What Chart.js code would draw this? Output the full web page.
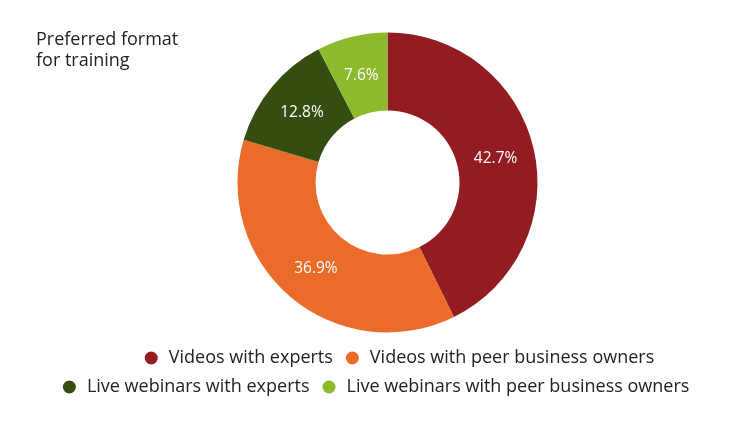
<!DOCTYPE html>
<html>
<head>
<meta charset="utf-8">
<script src="https://cdn.jsdelivr.net/npm/chart.js@4/dist/chart.umd.min.js"></script>
<style>
  html, body { margin: 0; padding: 0; background: #fff; }
  #wrap { width: 750px; height: 422px; }
</style>
</head>
<body>
<div id="wrap"><canvas id="chartFormat"></canvas></div>
<script>
/* ── Data ── */
const categories = [
    'Videos with experts',
    'Videos with peer business owners',
    'Live webinars with experts',
    'Live webinars with peer business owners'
];
const shares = [42.7, 36.9, 12.8, 7.6];
const sliceColors = ['#921c22', '#eb6b2a', '#364d12', '#8dba2c'];
const titleLines = ['Preferred format', 'for training'];

const FONT = '"Open Sans", Lato, sans-serif';
const TEXT_COLOR = '#222';

/**
 * Title drawn in the top-left corner, over the chart
 */
const cornerTitle = {
    id: 'cornerTitle',
    afterDraw(chart) {
        const ctx = chart.ctx;
        ctx.save();
        ctx.fillStyle = TEXT_COLOR;
        ctx.font = '18px ' + FONT;
        ctx.textAlign = 'left';
        ctx.textBaseline = 'alphabetic';
        titleLines.forEach((line, i) => ctx.fillText(line, 36, 45 + i * 21));
        ctx.restore();
    }
};

/**
 * Percent labels in the middle of each slice
 */
const sliceLabels = {
    id: 'sliceLabels',
    afterDatasetsDraw(chart) {
        const ctx = chart.ctx;
        const meta = chart.getDatasetMeta(0);
        ctx.save();
        ctx.fillStyle = '#fff';
        ctx.font = '15.5px ' + FONT;
        ctx.textAlign = 'center';
        ctx.textBaseline = 'middle';
        meta.data.forEach((arc, i) => {
            const pos = arc.tooltipPosition();
            ctx.fillText(shares[i].toFixed(1) + '%', pos.x, pos.y + 1);
        });
        ctx.restore();
    }
};

/**
 * Nudge the legend box sideways (rows in the original sit a bit right of the donut)
 */
const legendShift = {
    id: 'legendShift',
    afterLayout(chart) {
        if (chart.legend) {
            chart.legend.left += 11;
            chart.legend.right += 11;
        }
    }
};

new Chart(document.getElementById('chartFormat'), {
    type: 'doughnut',
    data: {
        labels: categories,
        datasets: [{
            data: shares,
            backgroundColor: sliceColors,
            borderWidth: 0,
            radius: 150,
            cutout: '48%'
        }]
    },
    options: {
        responsive: true,
        maintainAspectRatio: false,
        animation: false,
        layout: {
            padding: { top: 27, bottom: 16, left: 25, right: 0 }
        },
        plugins: {
            legend: {
                position: 'bottom',
                labels: {
                    usePointStyle: true,
                    pointStyle: 'circle',
                    boxHeight: 9.2,
                    boxWidth: 17,
                    padding: 11,
                    color: TEXT_COLOR,
                    font: { family: FONT, size: 18 },
                    generateLabels(chart) {
                        const items = Chart.overrides.doughnut.plugins.legend.labels.generateLabels(chart);
                        // trailing blanks widen the second row so it sits further left, as in the original
                        items[items.length - 1].text += '          ';
                        return items;
                    }
                }
            },
            tooltip: { enabled: false }
        }
    },
    plugins: [cornerTitle, sliceLabels, legendShift]
});
</script>
</body>
</html>
